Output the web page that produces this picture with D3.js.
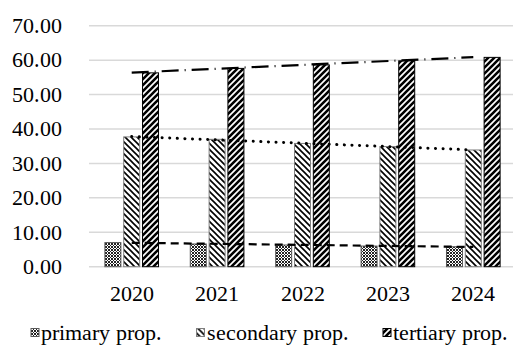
<!DOCTYPE html>
<html><head><meta charset="utf-8">
<script src="https://cdn.jsdelivr.net/npm/d3@7"></script>
<style>
@font-face{font-family:"ChartSerif";src:local("Liberation Serif"),local("LiberationSerif"),local("Liberation Serif Regular"),local("LiberationSerif-Regular");}
body{margin:0;background:#fff}
</style>
</head><body>
<svg id="c" width="515" height="360"></svg>
<script>
const years = ["2020","2021","2022","2023","2024"];
const primary = [7.0, 6.6, 6.3, 6.0, 5.8];
const secondary = [37.7, 37.0, 35.8, 34.9, 33.9];
const tertiary = [56.3, 57.6, 58.6, 59.8, 60.8];
const seriesNames = ["primary prop.", "secondary prop.", "tertiary prop."];
const yTicks = [0,10,20,30,40,50,60,70];

const FONT = "ChartSerif, 'Liberation Serif', serif";

const series = [
  {name: seriesNames[0], values: primary, fill: "url(#pPrim)", stroke: "#595959", dash: "8,5", cap: "butt"},
  {name: seriesNames[1], values: secondary, fill: "url(#pSec)", stroke: "#7f7f7f", dash: "0.1,7.5", cap: "round"},
  {name: seriesNames[2], values: tertiary, fill: "url(#pTer)", stroke: "#000", dash: "17,6,1,6", cap: "butt"}
];

const svg = d3.select("#c");
const defs = svg.append("defs");
const p1 = defs.append("pattern").attr("id","pPrim").attr("patternUnits","userSpaceOnUse").attr("width",3).attr("height",3);
p1.append("rect").attr("width",3).attr("height",3).attr("fill","#fff");
p1.append("rect").attr("x",0).attr("y",0).attr("width",2).attr("height",2).attr("fill","#222");
p1.append("rect").attr("x",2).attr("y",2).attr("width",1).attr("height",1).attr("fill","#222");
const p2 = defs.append("pattern").attr("id","pSec").attr("patternUnits","userSpaceOnUse").attr("width",6).attr("height",6);
p2.append("rect").attr("width",6).attr("height",6).attr("fill","#fff");
p2.append("path").attr("d","M-1,-1 L7,7 M-4,2 L1,7 M5,-1 L8,2").attr("stroke","#000").attr("stroke-width",1.6);
const p3 = defs.append("pattern").attr("id","pTer").attr("patternUnits","userSpaceOnUse").attr("width",6).attr("height",6);
p3.append("rect").attr("width",6).attr("height",6).attr("fill","#fff");
p3.append("path").attr("d","M-1,7 L7,-1 M-4,4 L4,-4 M2,10 L10,2").attr("stroke","#000").attr("stroke-width",2.6);

const x = d3.scaleBand().domain(years).range([89, 516]).padding(0);
const groupW = x.bandwidth() * 0.628;
const xs = d3.scaleBand().domain([0,1,2]).range([0, groupW]).paddingInner(0.15).paddingOuter(0);
const y = d3.scaleLinear().domain([0,70]).range([266.7, 25.7]);

svg.append("g").selectAll("line").data(yTicks).join("line")
  .attr("x1", 89).attr("x2", 513)
  .attr("y1", d => y(d)).attr("y2", d => y(d))
  .attr("stroke", "#d9d9d9").attr("stroke-width", 1.5);

function setFont(sel, size) {
  sel.style("font-family", FONT, "important").style("font-size", size + "px", "important").attr("fill", "#000");
}

svg.append("g").selectAll("text").data(yTicks).join("text")
  .attr("x", 62).attr("y", d => y(d)).attr("dy", "0.33em")
  .attr("text-anchor", "end").call(setFont, 22)
  .text(d3.format(".2f"));

svg.append("g").selectAll("text").data(years).join("text")
  .attr("x", d => x(d) + x.bandwidth() / 2).attr("y", 280).attr("dy", "0.95em")
  .attr("text-anchor", "middle").call(setFont, 22)
  .text(d => d);

series.forEach((s, i) => {
  svg.append("g").selectAll("rect").data(s.values).join("rect")
    .attr("x", (d, j) => x(years[j]) + (x.bandwidth() - groupW) / 2 + xs(i))
    .attr("width", xs.bandwidth())
    .attr("y", d => y(d))
    .attr("height", d => y(0) - y(d))
    .attr("fill", s.fill).attr("stroke", s.stroke).attr("stroke-width", 1);
});

series.forEach(s => {
  const n = s.values.length;
  const xi = d3.range(1, n + 1);
  const mx = d3.mean(xi), my = d3.mean(s.values);
  const b = d3.sum(xi, (v, k) => (v - mx) * (s.values[k] - my)) / d3.sum(xi, v => (v - mx) ** 2);
  const a = my - b * mx;
  const pts = [1, n].map(v => [x(years[v - 1]) + x.bandwidth() / 2, y(a + b * v)]);
  svg.append("path").attr("d", d3.line()(pts))
    .attr("fill","none").attr("stroke","#000")
    .attr("stroke-width", s.cap === "round" ? 3 : 2.2)
    .attr("stroke-dasharray", s.dash).attr("stroke-linecap", s.cap);
});

// legend: items laid out one after another, spread to fill the row like the reference
const lg = svg.append("g").attr("transform", "translate(0,333)");
const items = series.map(s => {
  const g = lg.append("g");
  g.append("rect").attr("x", 0).attr("y", -4.5).attr("width", 8).attr("height", 8)
    .attr("fill", s.fill).attr("stroke", s.stroke).attr("stroke-width", 1);
  const t = g.append("text").attr("x", 10).attr("y", 0).attr("dy", "0.33em")
    .call(setFont, 22).text(s.name);
  return {g, w: 10 + t.node().getComputedTextLength()};
});
const legStart = 31, legEnd = 508;
const totalW = d3.sum(items, d => d.w);
const gap = Math.max(8, (legEnd - legStart - totalW) / (items.length - 1));
let cx = legStart;
items.forEach(it => { it.g.attr("transform", `translate(${cx},0)`); cx += it.w + gap; });
</script></body></html>
